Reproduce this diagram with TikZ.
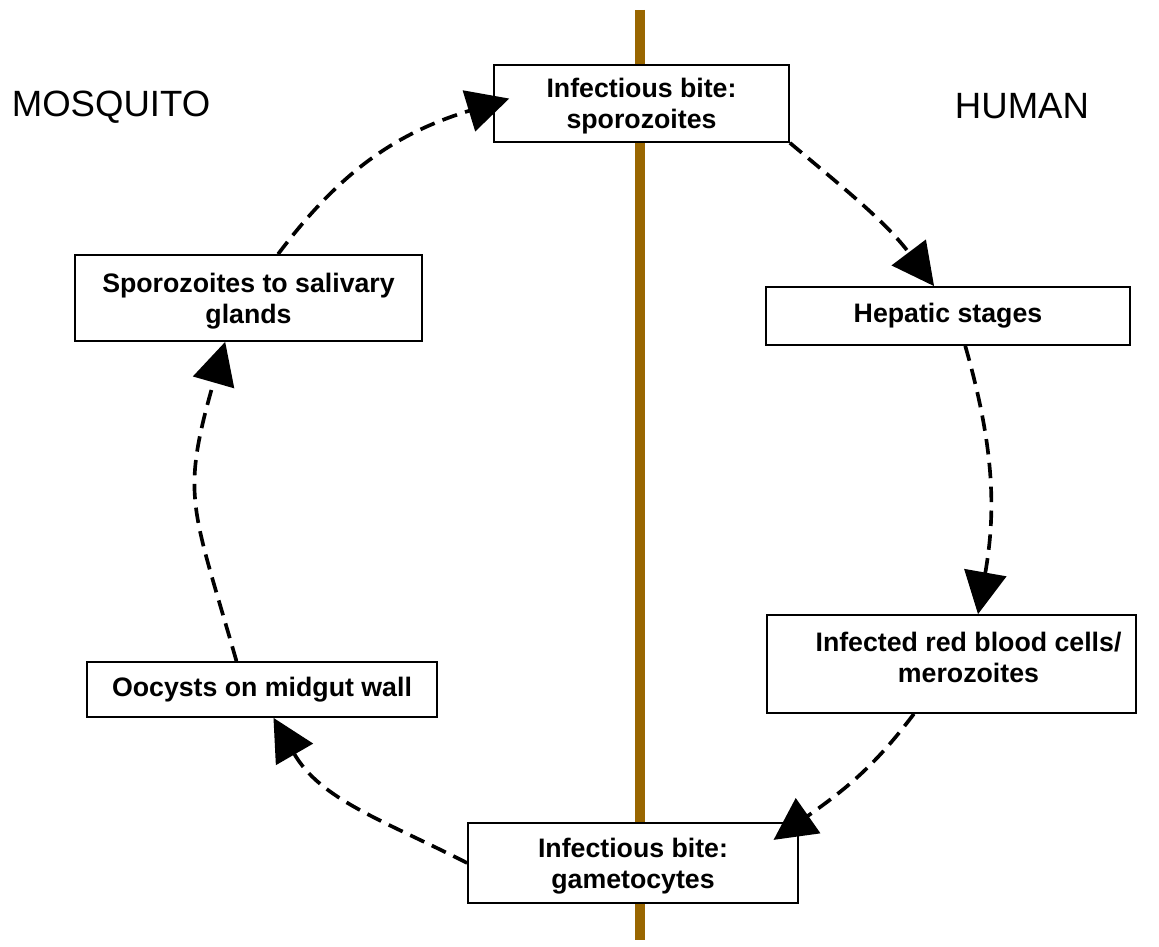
\documentclass[tikz,border=0pt]{standalone}
\usepackage{fontspec}
\setmainfont{Liberation Sans}
\usepackage{xcolor}
\usepackage{tikz}
\usetikzlibrary{arrows.meta, positioning}
\definecolor{barbrown}{HTML}{996600}

\begin{document}
\begin{tikzpicture}[
            x=0.025cm, y=0.025cm,
            stagetext/.style={align=center, font=\bfseries\fontsize{19}{22}\selectfont},
            stagebox/.style={stagetext, draw, line width=1.2pt, fill=white, inner sep=0pt},
            twoline/.style={text depth=-3pt},
            hostlabel/.style={font=\fontsize{26}{30}\selectfont},
            flow/.style={-{Triangle[length=30pt, width=30pt]}, line width=2.6pt,
                dash pattern=on 11pt off 6pt},
        ]
        \useasboundingbox (0,0) rectangle (1159,947);

        \draw[barbrown, line width=7.8pt] (640,937) -- (640,7);

        \node (mosq) at (111,840) [hostlabel] {MOSQUITO};
        \node (human) at (1022,841) [hostlabel] {HUMAN};

        \node (bite1) at (641.5,843.5) [stagebox, twoline, minimum width=7.375cm, minimum height=1.925cm] {Infectious bite:\\sporozoites};
        \node (hep) at (948,631) [stagebox, minimum width=9.1cm, minimum height=1.45cm] {Hepatic stages};
        \node (inf) at (951.5,283) [stagebox, minimum width=9.225cm, minimum height=2.45cm] {};
        \node (inftext) at (968.5,289.5) [stagetext] {Infected red blood cells/\\merozoites};
        \node (bite2) at (633,84) [stagebox, twoline, minimum width=8.25cm, minimum height=2cm] {Infectious bite:\\gametocytes};
        \node (ooc) at (262,257.5) [stagebox, minimum width=8.75cm, minimum height=1.375cm] {Oocysts on midgut wall};
        \node (spg) at (248.5,649) [stagebox, twoline, minimum width=8.675cm, minimum height=2.15cm] {Sporozoites to salivary\\glands};

        \draw[flow] (bite1.south east) to[out=-40, in=127] (hep.115);
        \draw[flow] (hep.-60) to[out=-74, in=80] (inf.62);
        \draw[flow, shorten >=-22pt] (inf.-127) to[out=-127, in=35] (bite2.north east);
        \draw[flow] (bite2.west) to[out=153, in=-60] (ooc.-68);
        \draw[flow] (ooc.132) to[out=106, in=-106, looseness=1.3] (spg.-118);
        \draw[flow, shorten >=-12pt] (spg.56) to[out=53, in=-163] (bite1.west);

        \end{tikzpicture}
\end{document}
